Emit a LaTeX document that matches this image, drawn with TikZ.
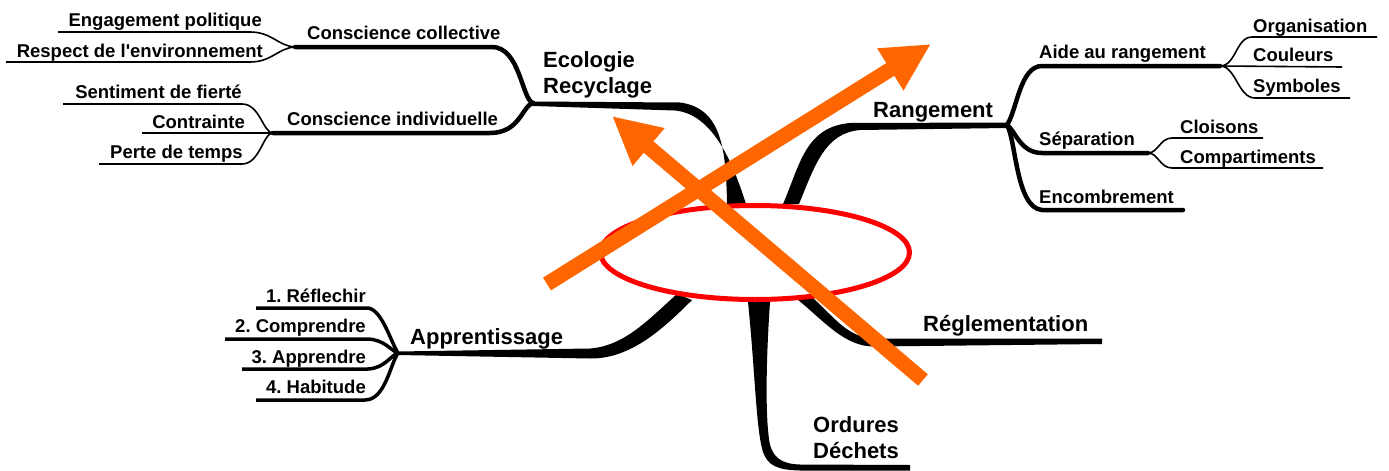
\documentclass[tikz,border=0pt]{standalone}
\usepackage{fontspec}
\setmainfont{Liberation Sans}
\usetikzlibrary{arrows.meta}
\definecolor{arroworange}{HTML}{FF6600}
\definecolor{ringred}{HTML}{FF0000}
\frenchspacing
\begin{document}
\begin{tikzpicture}[x=1pt,y=-1pt,
  lbl/.style={inner sep=0pt, font=\fontsize{18.5}{22}\selectfont\bfseries},
  mainlbl/.style={inner sep=0pt, font=\fontsize{22}{26}\selectfont\bfseries, align=left},
  leafline/.style={line width=1.6pt},
  subline/.style={line width=4.5pt, line cap=round},
  appline/.style={line width=3.5pt},
  trunk/.style={fill=black},
  ring/.style={draw=ringred, line width=5pt},
  bigarrow/.style={draw=arroworange, line width=15pt, -{Triangle[length=48pt,width=46pt]}}
]
\useasboundingbox (0,0) rectangle (1389,471);

% ---------- junctions ----------
\coordinate (jCC) at (295,47);
\coordinate (jCI) at (273,133);
\coordinate (jEco) at (533,103);
\coordinate (jRang) at (1007,125);
\coordinate (jAide) at (1220,66);
\coordinate (jSep) at (1148,153);
\coordinate (jApp) at (398,353);

% ---------- free line ends ----------
\coordinate (eEng) at (58,32);
\coordinate (eRes) at (6,62);
\coordinate (eSen) at (63,104);
\coordinate (eCon) at (142,133);
\coordinate (ePer) at (99,164);
\coordinate (eOrg) at (1377,37);
\coordinate (eCou) at (1342,67);
\coordinate (eSym) at (1350,98);
\coordinate (eClo) at (1263,138);
\coordinate (eCom) at (1323,168);
\coordinate (eEnc) at (1183,210);
\coordinate (eRef) at (256,308);
\coordinate (eCmp) at (225,339);
\coordinate (eApp) at (242,369);
\coordinate (eHab) at (256,400);

% ---------- labels ----------
\node[lbl, anchor=base east] (engage) at (262,26) {Engagement politique};
\node[lbl, anchor=base east] (respect) at (263,57) {Respect de l\textquotesingle environnement};
\node[lbl, anchor=base east] (fierte) at (242,98) {Sentiment de fierté};
\node[lbl, anchor=base east] (contrainte) at (245,128) {Contrainte};
\node[lbl, anchor=base east] (perte) at (243,158) {Perte de temps};
\node[lbl, anchor=base west] (ccoll) at (307,39) {Conscience collective};
\node[lbl, anchor=base west] (cindiv) at (287,125) {Conscience individuelle};
\node[mainlbl, anchor=base west] (eco) at (543,93) {Ecologie\\Recyclage};
\node[mainlbl, anchor=base west] (rang) at (873,117) {Rangement};
\node[lbl, anchor=base west] (aide) at (1039,58) {Aide au rangement};
\node[lbl, anchor=base west] (orga) at (1253,32) {Organisation};
\node[lbl, anchor=base west] (coul) at (1253,61) {Couleurs};
\node[lbl, anchor=base west] (symb) at (1253,92) {Symboles};
\node[lbl, anchor=base west] (sepa) at (1039,145) {Séparation};
\node[lbl, anchor=base west] (cloi) at (1180,133) {Cloisons};
\node[lbl, anchor=base west] (comp) at (1180,163) {Compartiments};
\node[lbl, anchor=base west] (enco) at (1039,203) {Encombrement};
\node[mainlbl, anchor=base west] (regl) at (923,331) {Réglementation};
\node[mainlbl, anchor=base west] (ordu) at (813,458) {Ordures\\Déchets};
\node[mainlbl, anchor=base west] (appr) at (410,344) {Apprentissage};
\node[lbl, anchor=base east] (refl) at (366,302) {1. Réflechir};
\node[lbl, anchor=base east] (compr) at (366,332) {2. Comprendre};
\node[lbl, anchor=base east] (apprd) at (366,363) {3. Apprendre};
\node[lbl, anchor=base east] (habi) at (366,393) {4. Habitude};

% ---------- main tapered branches ----------
% Ecologie / Recyclage
\fill[trunk] (727,204) .. controls (726,150) and (722,108) .. (680,102.5) -- ([yshift=1.5pt]jEco)
  -- ([yshift=-3pt]jEco) -- (675,110.5) .. controls (712,114) and (732,160) .. (746,204) -- cycle;
% Rangement
\fill[trunk] (783,204) .. controls (800,165) and (805,127) .. (850,123) -- ([yshift=2.5pt]jRang)
  -- ([yshift=-3pt]jRang) -- (860,130) .. controls (825,133) and (815,165) .. (799,204) -- cycle;
% Reglementation
\fill[trunk] (813,298) .. controls (835,318) and (848,338) .. (875,338.5) -- (1102,338.5)
  -- (1102,344) -- (875,346.5) .. controls (845,347) and (825,322) .. (797,299) -- cycle;
% Ordures / Dechets
\fill[trunk] (748,302) .. controls (755,370) and (756,430) .. (763,452) .. controls (768,466) and (778,470) .. (800,470.5)
  -- (910,470.5) -- (910,465) -- (800,464.5) .. controls (782,464) and (774,458) .. (770,445)
  .. controls (765,420) and (766,360) .. (770,302) -- cycle;
% Apprentissage
\fill[trunk] ([yshift=1.5pt]jApp) -- (590,348.5) .. controls (625,346) and (650,318) .. (677,294)
  -- (692,300) .. controls (662,330) and (630,359) .. (590,358.5) -- ([yshift=-2pt]jApp) -- cycle;

% ---------- sub branches ----------
\draw[subline] (jCC) -- (492,47) .. controls (520,47) and (522,100) .. (jEco);
\draw[subline] (jCI) -- (490,133) .. controls (520,133) and (522,106) .. (jEco);
\draw[subline] (jRang) .. controls (1017,110) and (1020,66) .. (1042,66) -- (jAide);
\draw[subline] (jRang) .. controls (1015,130) and (1020,153) .. (1042,153) -- (jSep);
\draw[subline] (jRang) .. controls (1016,140) and (1016,208) .. (1042,210) -- (eEnc);

% ---------- leaves ----------
\draw[leafline] (eEng) -- (250,32) .. controls (272,32) and (278,46) .. (jCC);
\draw[leafline] (eRes) -- (250,62) .. controls (272,62) and (278,48) .. (jCC);
\draw[leafline] (eSen) -- (242,104) .. controls (260,104) and (263,133) .. (jCI);
\draw[leafline] (eCon) -- (jCI);
\draw[leafline] (ePer) -- (242,164) .. controls (260,164) and (263,133) .. (jCI);
\draw[leafline] (jAide) .. controls (1236,66) and (1236,37) .. (1252,37) -- (eOrg);
\draw[leafline] (jAide) -- (eCou);
\draw[leafline] (jAide) .. controls (1236,66) and (1238,98) .. (1255,98) -- (eSym);
\draw[leafline] (jSep) .. controls (1158,153) and (1160,138) .. (1172,138) -- (eClo);
\draw[leafline] (jSep) .. controls (1158,153) and (1160,168) .. (1172,168) -- (eCom);
\draw[appline] (eRef) -- (368,308) .. controls (382,310) and (390,340) .. (jApp);
\draw[appline] (eCmp) -- (368,339) .. controls (385,340) and (390,350) .. (jApp);
\draw[appline] (eApp) -- (368,369) .. controls (385,368) and (390,356) .. (jApp);
\draw[appline] (eHab) -- (365,400) .. controls (385,400) and (390,365) .. (jApp);

% ---------- red ring ----------
\coordinate (ringc) at (755,252.5);
\draw[ring] (ringc) ellipse [x radius=154.5pt, y radius=47pt];

% ---------- orange arrows ----------
\coordinate (a1tail) at (547,284);
\coordinate (a1tip) at (931,44);
\coordinate (a2tail) at (923,380);
\coordinate (a2tip) at (612,116);
\draw[bigarrow] (a1tail) -- (a1tip);
\draw[bigarrow] (a2tail) -- (a2tip);
\end{tikzpicture}
\end{document}
